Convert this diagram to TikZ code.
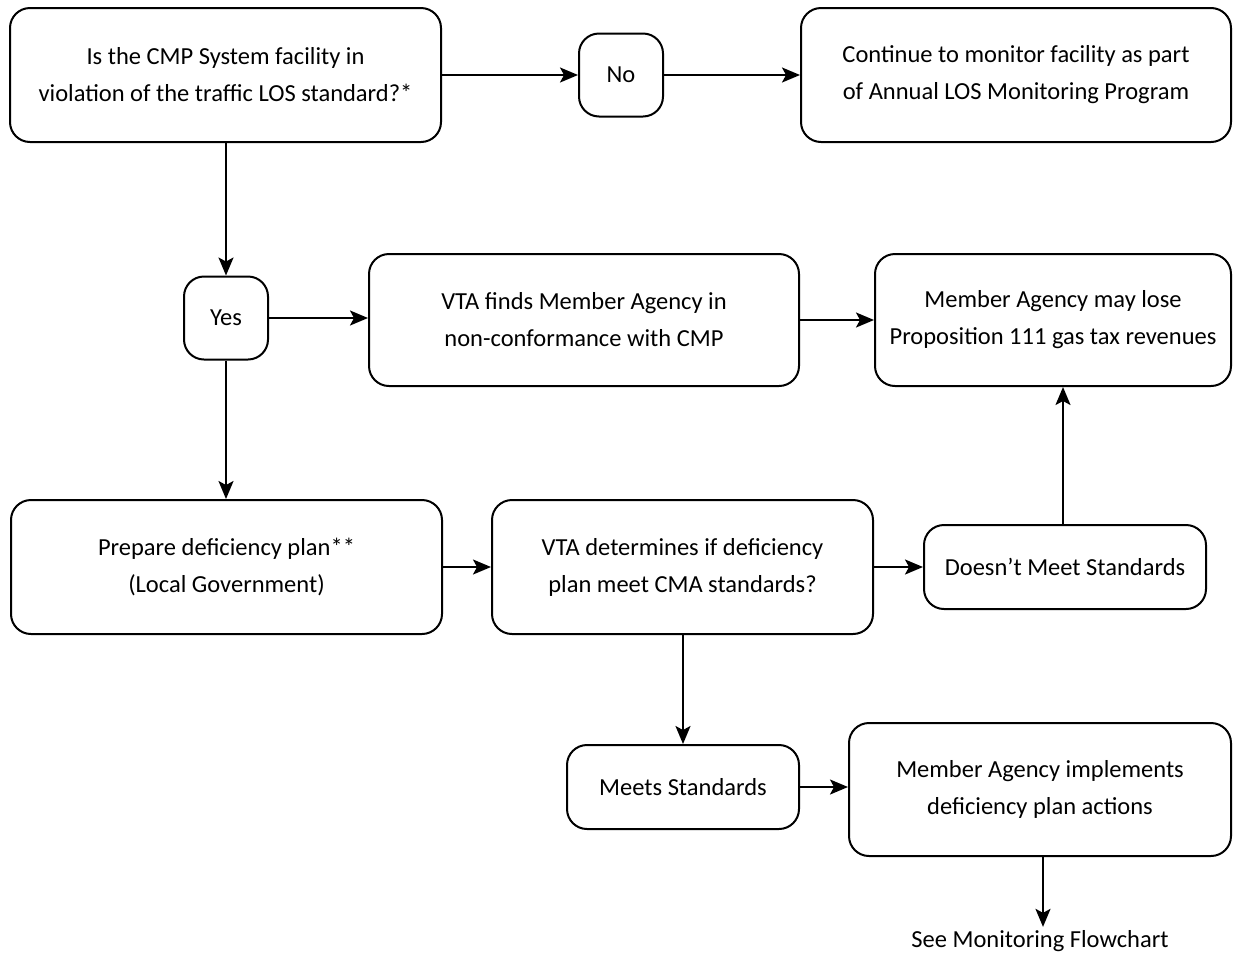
\documentclass[tikz,border=0pt]{standalone}
\usepackage{fontspec}
\setmainfont{Carlito}
\usetikzlibrary{arrows.meta}

\begin{document}
\begin{tikzpicture}[x=1pt, y=-1pt,
	box/.style={draw, line width=2pt, rounded corners=20pt, align=center, inner sep=0pt, font=\fontsize{24.5}{37}\selectfont},
	flow/.style={line width=2pt, -{Stealth[length=18pt, width=15pt, inset=4pt]}}]
		\useasboundingbox (0,0) rectangle (1233,954);
		\node[box, minimum width=431pt, minimum height=134pt] (violation) at (225.5,75) {Is the CMP System facility in\\violation of the traffic LOS standard?*};
		\node[box, minimum width=84pt, minimum height=83pt] (no) at (621,75) {No};
		\node[box, minimum width=430pt, minimum height=134pt] (monitor) at (1016,75) {Continue to monitor facility as part\\of Annual LOS Monitoring Program};
		\node[box, minimum width=84pt, minimum height=83pt] (yes) at (226,318) {Yes};
		\node[box, minimum width=430pt, minimum height=132pt] (nonconf) at (584,320) {VTA finds Member Agency in\\non-conformance with CMP};
		\node[box, minimum width=356pt, minimum height=132pt] (lose) at (1053,320) {Member Agency may lose\\Proposition 111 gas tax revenues};
		\node[box, minimum width=431pt, minimum height=134pt] (prepare) at (226.5,567) {Prepare deficiency plan**\\(Local Government)};
		\node[box, minimum width=381pt, minimum height=134pt] (determine) at (682.5,567) {VTA determines if deficiency\\plan meet CMA standards?};
		\node[box, minimum width=282pt, minimum height=84pt] (notmeet) at (1065,567) {Doesn’t Meet Standards};
		\node[box, minimum width=232pt, minimum height=84pt] (meets) at (683,787) {Meets Standards};
		\node[box, minimum width=382pt, minimum height=133pt] (implement) at (1040,789.5) {Member Agency implements\\deficiency plan actions};
		\node[font=\fontsize{24.5}{37}\selectfont] (seeflow) at (1040,941) {See Monitoring Flowchart};
		\draw[flow] (violation) -- (no);
		\draw[flow] (no) -- (monitor);
		\draw[flow] (violation.south -| yes) -- (yes);
		\draw[flow] (yes) -- (yes -| nonconf.west);
		\draw[flow] (nonconf) -- (nonconf -| lose.west);
		\draw[flow] (yes) -- (prepare.north -| yes);
		\draw[flow] (prepare) -- (determine);
		\draw[flow] (determine) -- (notmeet);
		\draw[flow] (notmeet.north -| 1063,0) -- (lose.south -| 1063,0);
		\draw[flow] (determine.south -| meets) -- (meets);
		\draw[flow] (meets) -- (meets -| implement.west);
		\draw[flow] (implement.south -| 1043,0) -- (seeflow.north -| 1043,0);
\end{tikzpicture}
\end{document}
